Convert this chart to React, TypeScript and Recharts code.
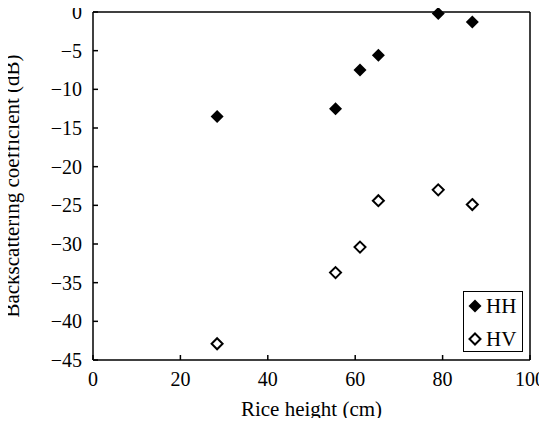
import React from 'react';
import {
  ScatterChart,
  Scatter,
  XAxis,
  YAxis,
  ReferenceLine,
  Legend,
} from 'recharts';

// rice height (cm) of the six samples
const heights = [28.4, 55.5, 61.1, 65.3, 79.0, 86.8];
// backscattering coefficient (dB)
const hhValues = [-13.5, -12.5, -7.5, -5.6, -0.2, -1.3];
const hvValues = [-42.9, -33.7, -30.4, -24.4, -23.0, -24.9];

const xTicks = [0, 20, 40, 60, 80, 100];
const yTicks = [-45, -40, -35, -30, -25, -20, -15, -10, -5, 0];

const hhData = heights.map((h, i) => ({ h, v: hhValues[i] }));
const hvData = heights.map((h, i) => ({ h, v: hvValues[i] }));

const FONT = '"Liberation Serif", "Times New Roman", serif';

const diamondPath = (cx: number, cy: number, r: number) =>
  `M${cx},${cy - r}L${cx + r},${cy}L${cx},${cy + r}L${cx - r},${cy}Z`;

const FilledDiamond = (props: any) => {
  const { cx, cy } = props;
  return <path d={diamondPath(cx, cy, 6.5)} fill="#000" stroke="none" />;
};

const HollowDiamond = (props: any) => {
  const { cx, cy } = props;
  return <path d={diamondPath(cx, cy, 5.5)} fill="#fff" stroke="#000" strokeWidth={2} />;
};

const LegendIcon = ({ filled }: { filled: boolean }) => (
  <svg width={14} height={14} style={{ display: 'block' }}>
    {filled ? (
      <path d={diamondPath(7, 7, 6.5)} fill="#000" />
    ) : (
      <path d={diamondPath(7, 7, 5.5)} fill="#fff" stroke="#000" strokeWidth={2} />
    )}
  </svg>
);

const LegendBox = () => (
  <div
    style={{
      position: 'relative',
      width: 60,
      height: 61,
      boxSizing: 'border-box',
      border: '1.5px solid #000',
      background: '#fff',
      fontFamily: FONT,
      fontSize: 21,
      color: '#000',
    }}
  >
    {[
      { name: 'HH', filled: true, top: 2 },
      { name: 'HV', filled: false, top: 35 },
    ].map((r) => (
      <div
        key={r.name}
        style={{
          position: 'absolute',
          left: 4,
          top: r.top,
          height: 24,
          display: 'flex',
          alignItems: 'center',
          gap: 4,
          lineHeight: '24px',
        }}
      >
        <LegendIcon filled={r.filled} />
        <span>{r.name}</span>
      </div>
    ))}
  </div>
);

const fmt = (v: number) => String(v).replace('-', '\u2212');

const XTick = (props: any) => {
  const { x, y, payload } = props;
  return (
    <text x={x} y={y} dy="0.71em" textAnchor="middle" fill="#000"
      fontFamily={FONT} fontSize={20} style={{ fontFamily: FONT, fontSize: 20 }}>
      {payload.value}
    </text>
  );
};

const YTick = (props: any) => {
  const { x, y, payload } = props;
  return (
    <text x={x} y={y} dy="0.355em" textAnchor="end" fill="#000"
      fontFamily={FONT} fontSize={20} style={{ fontFamily: FONT, fontSize: 20 }}>
      {fmt(payload.value)}
    </text>
  );
};

const YLabel = (props: any) => {
  const vb = props.viewBox || {};
  const cx = 12;
  const cy = vb.y + vb.height / 2;
  return (
    <text x={cx} y={cy} transform={`rotate(-90 ${cx} ${cy})`} textAnchor="middle"
      dominantBaseline="central" fill="#000" style={{ fontFamily: FONT, fontSize: 21 }}>
      Backscattering coefficient (dB)
    </text>
  );
};

export default function App() {
  return (
    <div style={{ margin: -8, fontFamily: FONT }}>
      <ScatterChart
        width={547}
        height={426}
        margin={{ top: 12, right: 17, bottom: 0, left: 0 }}
      >
        <XAxis
          type="number"
          dataKey="h"
          domain={[0, 100]}
          ticks={xTicks}
          height={66}
          tickSize={-5}
          tickMargin={17}
          tick={<XTick />}
          axisLine={{ stroke: '#000', strokeWidth: 1.5 }}
          tickLine={{ stroke: '#000', strokeWidth: 1.5 }}
          label={{
            value: 'Rice height (cm)',
            position: 'insideBottom',
            offset: 10,
            fill: '#000',
            fontSize: 21,
            fontFamily: FONT,
          }}
        />
        <YAxis
          type="number"
          dataKey="v"
          domain={[-45, 0]}
          ticks={yTicks}
          width={93}
          tickSize={-5}
          tickMargin={16}
          tick={<YTick />}
          axisLine={{ stroke: '#000', strokeWidth: 1.5 }}
          tickLine={{ stroke: '#000', strokeWidth: 1.5 }}
          label={{ content: <YLabel /> }}
        />
        <ReferenceLine y={0} stroke="#000" strokeWidth={1.5} />
        <ReferenceLine x={100} stroke="#000" strokeWidth={1.5} />
        <Scatter
          name="HH"
          data={hhData}
          shape={<FilledDiamond />}
          isAnimationActive={false}
        />
        <Scatter
          name="HV"
          data={hvData}
          shape={<HollowDiamond />}
          isAnimationActive={false}
        />
        <Legend
          layout="horizontal"
          verticalAlign="middle"
          align="center"
          content={<LegendBox />}
          wrapperStyle={{ left: 463, top: 291, width: 60, height: 61, bottom: 'auto' }}
        />
      </ScatterChart>
    </div>
  );
}
